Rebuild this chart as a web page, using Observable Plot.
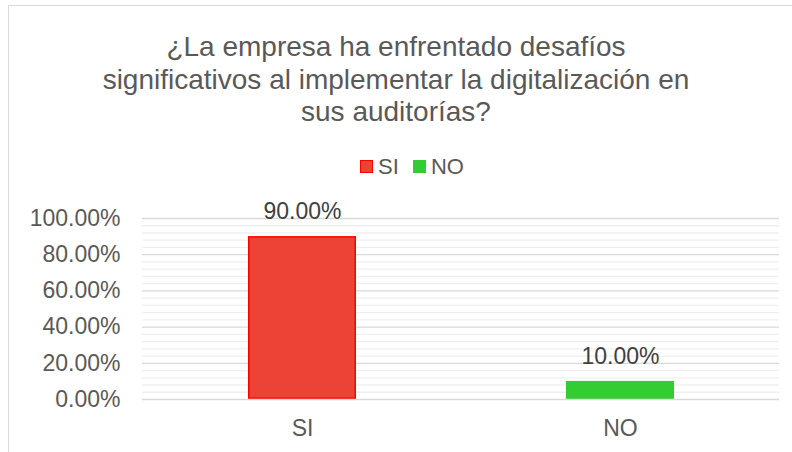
<!DOCTYPE html>
<html>
<head>
<meta charset="utf-8">
<script src="https://cdn.jsdelivr.net/npm/d3@7"></script>
<script src="https://cdn.jsdelivr.net/npm/@observablehq/plot@0.6"></script>
<style>
  html, body { margin: 0; padding: 0; background: #fff; }
  #wrap { position: relative; width: 792px; height: 452px; overflow: hidden; font-family: "Liberation Sans", Arial, sans-serif; color: #595959; }
  #frame { position: absolute; left: 8px; top: 5px; width: 800px; height: 460px; border: 1px solid #d9d9d9; box-sizing: border-box; }
  #title { position: absolute; left: 0; top: 31px; width: 792px; text-align: center; font-size: 28px; line-height: 32.5px; }
  #legend { position: absolute; left: 0; top: 155px; width: 792px; padding-left: 32px; box-sizing: border-box; text-align: center; font-size: 22px; line-height: 24px; }
  #legend span.item { display: inline-block; margin: 0 7px; }
  #legend span.sw { display: inline-block; width: 11px; height: 11px; margin-right: 5px; vertical-align: 1px; }
  #chart { position: absolute; left: 0; top: 180px; }
</style>
</head>
<body>
<div id="wrap">
  <div id="frame"></div>
  <div id="title"></div>
  <div id="legend"></div>
  <div id="chart"></div>
</div>
<script>
const titleLines = ["¿La empresa ha enfrentado desafíos", "significativos al implementar la digitalización en", "sus auditorías?"];
const categories = ["SI", "NO"];
const values = [0.90, 0.10];
const fills = ["#EB4335", "#33CC33"];
const strokes = ["#FF0000", "#33CC33"];
const majorTicks = [0, 0.2, 0.4, 0.6, 0.8, 1.0];
const minorTicks = [0.04, 0.08, 0.12, 0.16, 0.24, 0.28, 0.32, 0.36, 0.44, 0.48, 0.52, 0.56, 0.64, 0.68, 0.72, 0.76, 0.84, 0.88, 0.92, 0.96];

document.getElementById("title").innerHTML = titleLines.map(t => `<div>${t}</div>`).join("");
document.getElementById("legend").innerHTML = categories.map((c, i) =>
  `<span class="item"><span class="sw" style="background:${fills[i]};border:1px solid ${strokes[i]}"></span>${c}</span>`).join("");

const data = categories.map((c, i) => ({cat: c, value: values[i], fill: fills[i], stroke: strokes[i]}));
const pct = d => (d * 100).toFixed(2) + "%";

const plot = Plot.plot({
  width: 792,
  height: 265,
  marginLeft: 142,
  marginRight: 13,
  marginTop: 38,
  marginBottom: 46,
  style: {fontFamily: '"Liberation Sans", Arial, sans-serif', fontSize: "22px", color: "#595959", background: "transparent"},
  x: {domain: categories, paddingInner: 0.661, paddingOuter: 0.33, label: null},
  y: {domain: [0, 1], label: null},
  marks: [
    Plot.ruleY(minorTicks, {stroke: "#efefef", strokeWidth: 1.3}),
    Plot.ruleY(majorTicks.slice(1), {stroke: "#d9d9d9", strokeWidth: 1.3}),
    Plot.barY(data, {x: "cat", y: "value", fill: "fill", stroke: "stroke", strokeWidth: 1.5, inset: 0.75}),
    Plot.ruleY([0], {stroke: "#d9d9d9", strokeWidth: 1.5}),
    Plot.text(data, {x: "cat", y: "value", text: d => pct(d.value), dy: -25, fill: "#404040", fontSize: 23}),
    Plot.axisY({ticks: majorTicks, tickFormat: pct, tickSize: 0, tickPadding: 22, label: null, fontSize: 23, fill: "#595959"}),
    Plot.axisX({tickSize: 0, tickPadding: 20, label: null, fontSize: 23, fill: "#595959"})
  ]
});
document.getElementById("chart").appendChild(plot);
</script>
</body>
</html>
